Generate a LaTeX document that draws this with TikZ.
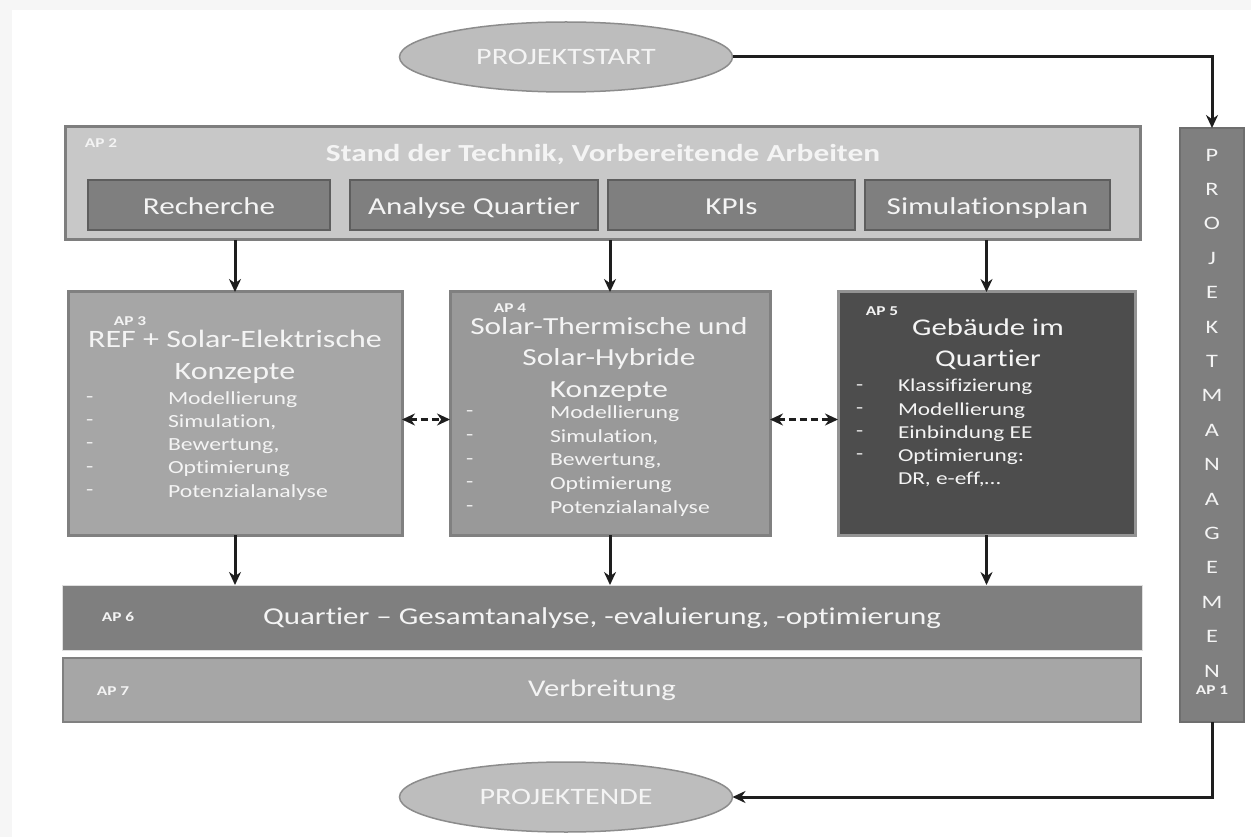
\documentclass[tikz,border=0pt]{standalone}
\usepackage{fontspec}
\setmainfont{Carlito}[FakeStretch=1.28, Ligatures=NoCommon]
\usetikzlibrary{shapes.geometric,arrows.meta}
\definecolor{txt}{HTML}{F4F4F4}
\definecolor{ellfill}{HTML}{BDBDBD}
\definecolor{ellline}{HTML}{8C8C8C}
\definecolor{lightfill}{HTML}{C8C8C8}
\definecolor{midfill}{HTML}{7F7F7F}
\definecolor{midline}{HTML}{5E5E5E}
\definecolor{boxfill}{HTML}{A6A6A6}
\definecolor{boxline}{HTML}{808080}
\definecolor{darkfill}{HTML}{4D4D4D}
\definecolor{arr}{HTML}{1E1E1E}
\begin{document}
\begin{tikzpicture}[x=1pt,y=-1pt,
  every node/.style={inner sep=0pt, outer sep=0pt, text=txt},
  ell/.style={ellipse, fill=ellfill, draw=ellline, line width=1.5pt, minimum width=333pt, minimum height=70pt, font=\fontsize{23.5}{26}\selectfont},
  panel/.style={rectangle, fill=lightfill, draw=midline!80, line width=3pt},
  subbox/.style={rectangle, fill=midfill, draw=midline, line width=2.5pt, minimum height=50pt, text height=21pt, text depth=1pt, font=\fontsize{24.3}{28}\selectfont},
  apbox/.style={rectangle, fill=boxfill, draw=boxline, line width=3pt, minimum width=#1, minimum height=243pt},
  aplbl/.style={font=\bfseries\fontsize{13.5}{15}\selectfont},
  ttl/.style={font=\fontsize{24.5}{31.5}\selectfont, align=center},
  itm/.style={font=\fontsize{18.5}{23}\selectfont, anchor=west},
  dsh/.style={font=\fontsize{18.5}{23}\selectfont, anchor=west},
  conn/.style={draw=arr, line width=3pt, -{Stealth[length=13pt,width=12pt]}},
  dconn/.style={draw=arr, line width=3pt, dashed, dash pattern=on 7pt off 4pt, {Stealth[length=13pt,width=12pt]}-{Stealth[length=13pt,width=12pt]}}
]
\useasboundingbox (0,0) rectangle (1251,837);
\fill[gray!7] (0,0) rectangle (1251,837);
\fill[white] (12,10) rectangle (1251,837);

% ellipses
\node[ell] (start) at (566,57) {PROJEKTSTART};
\node[ell] (ende) at (566,797) {PROJEKTENDE};

% project management column
\node[rectangle, fill=midfill, draw=midline!90, line width=2.5pt, minimum width=64pt, minimum height=594pt] (pm) at (1212,425) {};
\node[font=\fontsize{19}{34.4}\selectfont, align=center] (pmtxt) at (1212,413) {P\\R\\O\\J\\E\\K\\T\\M\\A\\N\\A\\G\\E\\M\\E\\N};
\node[aplbl] (ap1) at (1212,690) {AP 1};

% AP2
\node[panel, minimum width=1075pt, minimum height=113pt] (ap2) at (602.5,183.5) {};
\node[aplbl] (ap2l) at (101,143) {AP 2};
\node[font=\bfseries\fontsize{24.5}{28}\selectfont] (ap2t) at (603,155) {Stand der Technik, Vorbereitende Arbeiten};
\node[subbox, minimum width=242pt] (rech) at (209,205) {Recherche};
\node[subbox, minimum width=248pt] (anq) at (474,205) {Analyse Quartier};
\node[subbox, minimum width=247pt] (kpi) at (731.5,205) {KPIs};
\node[subbox, minimum width=245pt] (sim) at (987.5,205) {Simulationsplan};

% AP3
\node[apbox=334pt] (ap3) at (235,413.5) {};
\node[aplbl] (ap3l) at (130,321) {AP 3};
\node[ttl, font=\fontsize{25}{31.5}\selectfont] (ap3t) at (235,357) {REF + Solar-Elektrische\\Konzepte};
\foreach \t [count=\i] in {Modellierung,{Simulation,},{Bewertung,},Optimierung,Potenzialanalyse}{
  \node[dsh] (ap3d\i) at (86,{376+23.3*\i}) {-};
  \node[itm] (ap3i\i) at (168,{376+23.3*\i}) {\t};
}

% AP4
\node[apbox=320pt, fill=boxfill!92!black] (ap4) at (610,413.5) {};
\node[aplbl] (ap4l) at (510,308) {AP 4};
\node[ttl] (ap4t) at (609,359) {Solar-Thermische und\\Solar-Hybride\\Konzepte};
\foreach \t [count=\i] in {Modellierung,{Simulation,},{Bewertung,},Optimierung,Potenzialanalyse}{
  \node[dsh] (ap4d\i) at (466,{390+23.7*\i}) {-};
  \node[itm] (ap4i\i) at (550,{390+23.7*\i}) {\t};
}

% AP5
\node[apbox=297pt, fill=darkfill, draw=boxline!85!white] (ap5) at (986.5,413.5) {};
\node[aplbl] (ap5l) at (882,311) {AP 5};
\node[ttl, font=\fontsize{24}{31}\selectfont] (ap5t) at (988,344.5) {Gebäude im\\Quartier};
\foreach \t [count=\i] in {Klassifizierung,Modellierung,Einbindung EE,Optimierung:}{
  \node[dsh, font=\fontsize{18.2}{21}\selectfont] (ap5d\i) at (856,{364+23.2*\i}) {-};
  \node[itm, font=\fontsize{18.2}{21}\selectfont] (ap5i\i) at (898,{364+23.2*\i}) {\t};
}
\node[itm, font=\fontsize{18.2}{21}\selectfont] (ap5i5) at (898,479) {DR, e-eff,…};

% AP6 and AP7
\node[rectangle, fill=midfill, draw=gray!25, line width=1pt, minimum width=1080pt, minimum height=65pt] (ap6) at (602,617.5) {};
\node[aplbl] (ap6l) at (118,617) {AP 6};
\node[font=\fontsize{24.2}{27}\selectfont] (ap6t) at (602,618) {Quartier – Gesamtanalyse, -evaluierung, -optimierung};
\node[rectangle, fill=boxfill, draw=boxline, line width=2.5pt, minimum width=1078pt, minimum height=64pt] (ap7) at (602,690) {};
\node[aplbl] (ap7l) at (113,691) {AP 7};
\node[font=\fontsize{24}{27}\selectfont] (ap7t) at (602,690) {Verbreitung};

% connectors
\draw[conn] (start.east) -| (pm.north);
\draw[conn] (pm.south) |- (ende.east);
\draw[conn] (ap2.south -| ap3) -- (ap3.north);
\draw[conn] (ap2.south -| ap4) -- (ap4.north);
\draw[conn] (ap2.south -| ap5) -- (ap5.north);
\draw[conn] (ap3.south) -- (ap6.north -| ap3);
\draw[conn] (ap4.south) -- (ap6.north -| ap4);
\draw[conn] (ap5.south) -- (ap6.north -| ap5);
\draw[dconn] ([yshift=-6pt]ap3.east) -- ([yshift=-6pt]ap4.west);
\draw[dconn] ([yshift=-6pt]ap4.east) -- ([yshift=-6pt]ap5.west);
\end{tikzpicture}
\end{document}
